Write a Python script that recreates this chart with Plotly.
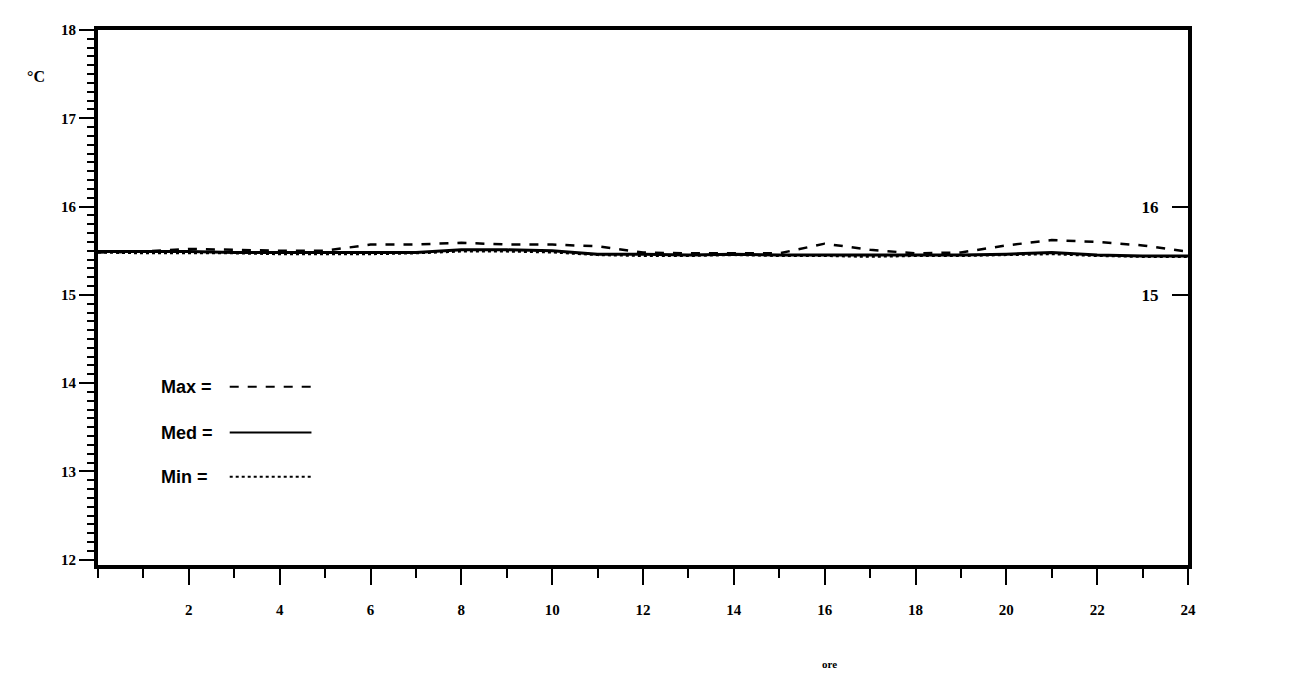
# Temperature over the day - Max / Med / Min
import plotly.graph_objs as go

ore = list(range(0, 25))

t_max = [15.48, 15.49, 15.52, 15.51, 15.50, 15.50, 15.57, 15.57, 15.59, 15.57,
         15.57, 15.55, 15.48, 15.47, 15.47, 15.47, 15.58, 15.51, 15.47, 15.48,
         15.56, 15.62, 15.60, 15.56, 15.49]

t_med = [15.49, 15.49, 15.49, 15.48, 15.48, 15.48, 15.48, 15.48, 15.51, 15.51,
         15.50, 15.46, 15.46, 15.45, 15.46, 15.45, 15.45, 15.45, 15.45, 15.45,
         15.46, 15.48, 15.45, 15.44, 15.44]

t_min = [15.48, 15.47, 15.47, 15.47, 15.46, 15.46, 15.46, 15.47, 15.49, 15.49,
         15.48, 15.45, 15.44, 15.44, 15.45, 15.44, 15.44, 15.43, 15.44, 15.44,
         15.45, 15.46, 15.44, 15.43, 15.43]

x_ticks = list(range(2, 25, 2))
y_ticks = [12, 13, 14, 15, 16, 17, 18]
right_ticks = [15, 16]

bold_serif = dict(family='Liberation Serif', size=15, color='black', weight='bold')

trace_max = go.Scatter(x=ore, y=t_max, mode='lines', name='Max',
                       line=dict(color='black', width=2.5, dash='dash'))
trace_med = go.Scatter(x=ore, y=t_med, mode='lines', name='Med',
                       line=dict(color='black', width=3))
# Min drawn against the right-hand axis (same scale) so that axis is shown
trace_min = go.Scatter(x=ore, y=t_min, mode='lines', name='Min', yaxis='y2',
                       line=dict(color='black', width=2, dash='dot'))

data = [trace_max, trace_med, trace_min]

layout = go.Layout(
    width=1284, height=675,
    paper_bgcolor='white', plot_bgcolor='white',
    margin=dict(l=90, r=104, t=22, b=118),
    showlegend=False,
    xaxis=dict(range=[0, 24], tickvals=x_ticks, ticks='outside', ticklen=16,
               tickwidth=2, tickcolor='black', ticklabelstandoff=12,
               minor=dict(dtick=1, tick0=0, ticks='outside', ticklen=9,
                          tickwidth=2, tickcolor='black'),
               showline=True, linewidth=4, linecolor='black', mirror=True,
               showgrid=False, zeroline=False, tickfont=bold_serif),
    yaxis=dict(range=[11.94, 18], tickvals=y_ticks, ticks='outside', ticklen=15,
               tickwidth=2, tickcolor='black',
               minor=dict(dtick=0.1, tick0=12, ticks='outside', ticklen=7,
                          tickwidth=2, tickcolor='black'),
               showline=True, linewidth=4, linecolor='black', mirror=True,
               showgrid=False, zeroline=False, tickfont=bold_serif),
    # right-hand scale: labels and ticks sit just inside the right frame
    yaxis2=dict(matches='y', overlaying='y', anchor='free', position=1,
                side='left', tickvals=right_ticks, ticks='outside', ticklen=16,
                tickwidth=2, tickcolor='black', ticklabelstandoff=10,
                showgrid=False, zeroline=False, showline=False,
                tickfont=dict(bold_serif, size=17)),
)

fig = go.Figure(data=data, layout=layout)

# unit and x title
fig.add_annotation(x=(36 - 98) / 1090, y=(565 - 76) / 535, xref='paper',
                   yref='paper', xanchor='center', yanchor='middle',
                   text='°C', showarrow=False, font=dict(bold_serif, size=16))
fig.add_annotation(x=16.1, y=-0.2, xref='x', yref='paper', text='ore',
                   showarrow=False, font=dict(bold_serif, size=11))

# legend drawn as in the original: label then line sample
legend_rows = [('Max =', 13.96, 'dash'), ('Med =', 13.44, 'solid'),
               ('Min =', 12.94, 'dot')]
for label, ypos, dash in legend_rows:
    fig.add_annotation(x=1.35, y=ypos, xref='x', yref='y', text=label,
                       xanchor='left', showarrow=False,
                       font=dict(family='Liberation Sans', size=18,
                                 color='black', weight='bold'))
    fig.add_shape(type='line', x0=2.9, x1=4.7, y0=ypos, y1=ypos,
                  xref='x', yref='y',
                  line=dict(color='black', width=2, dash=dash))

fig.write_html('out.html')
